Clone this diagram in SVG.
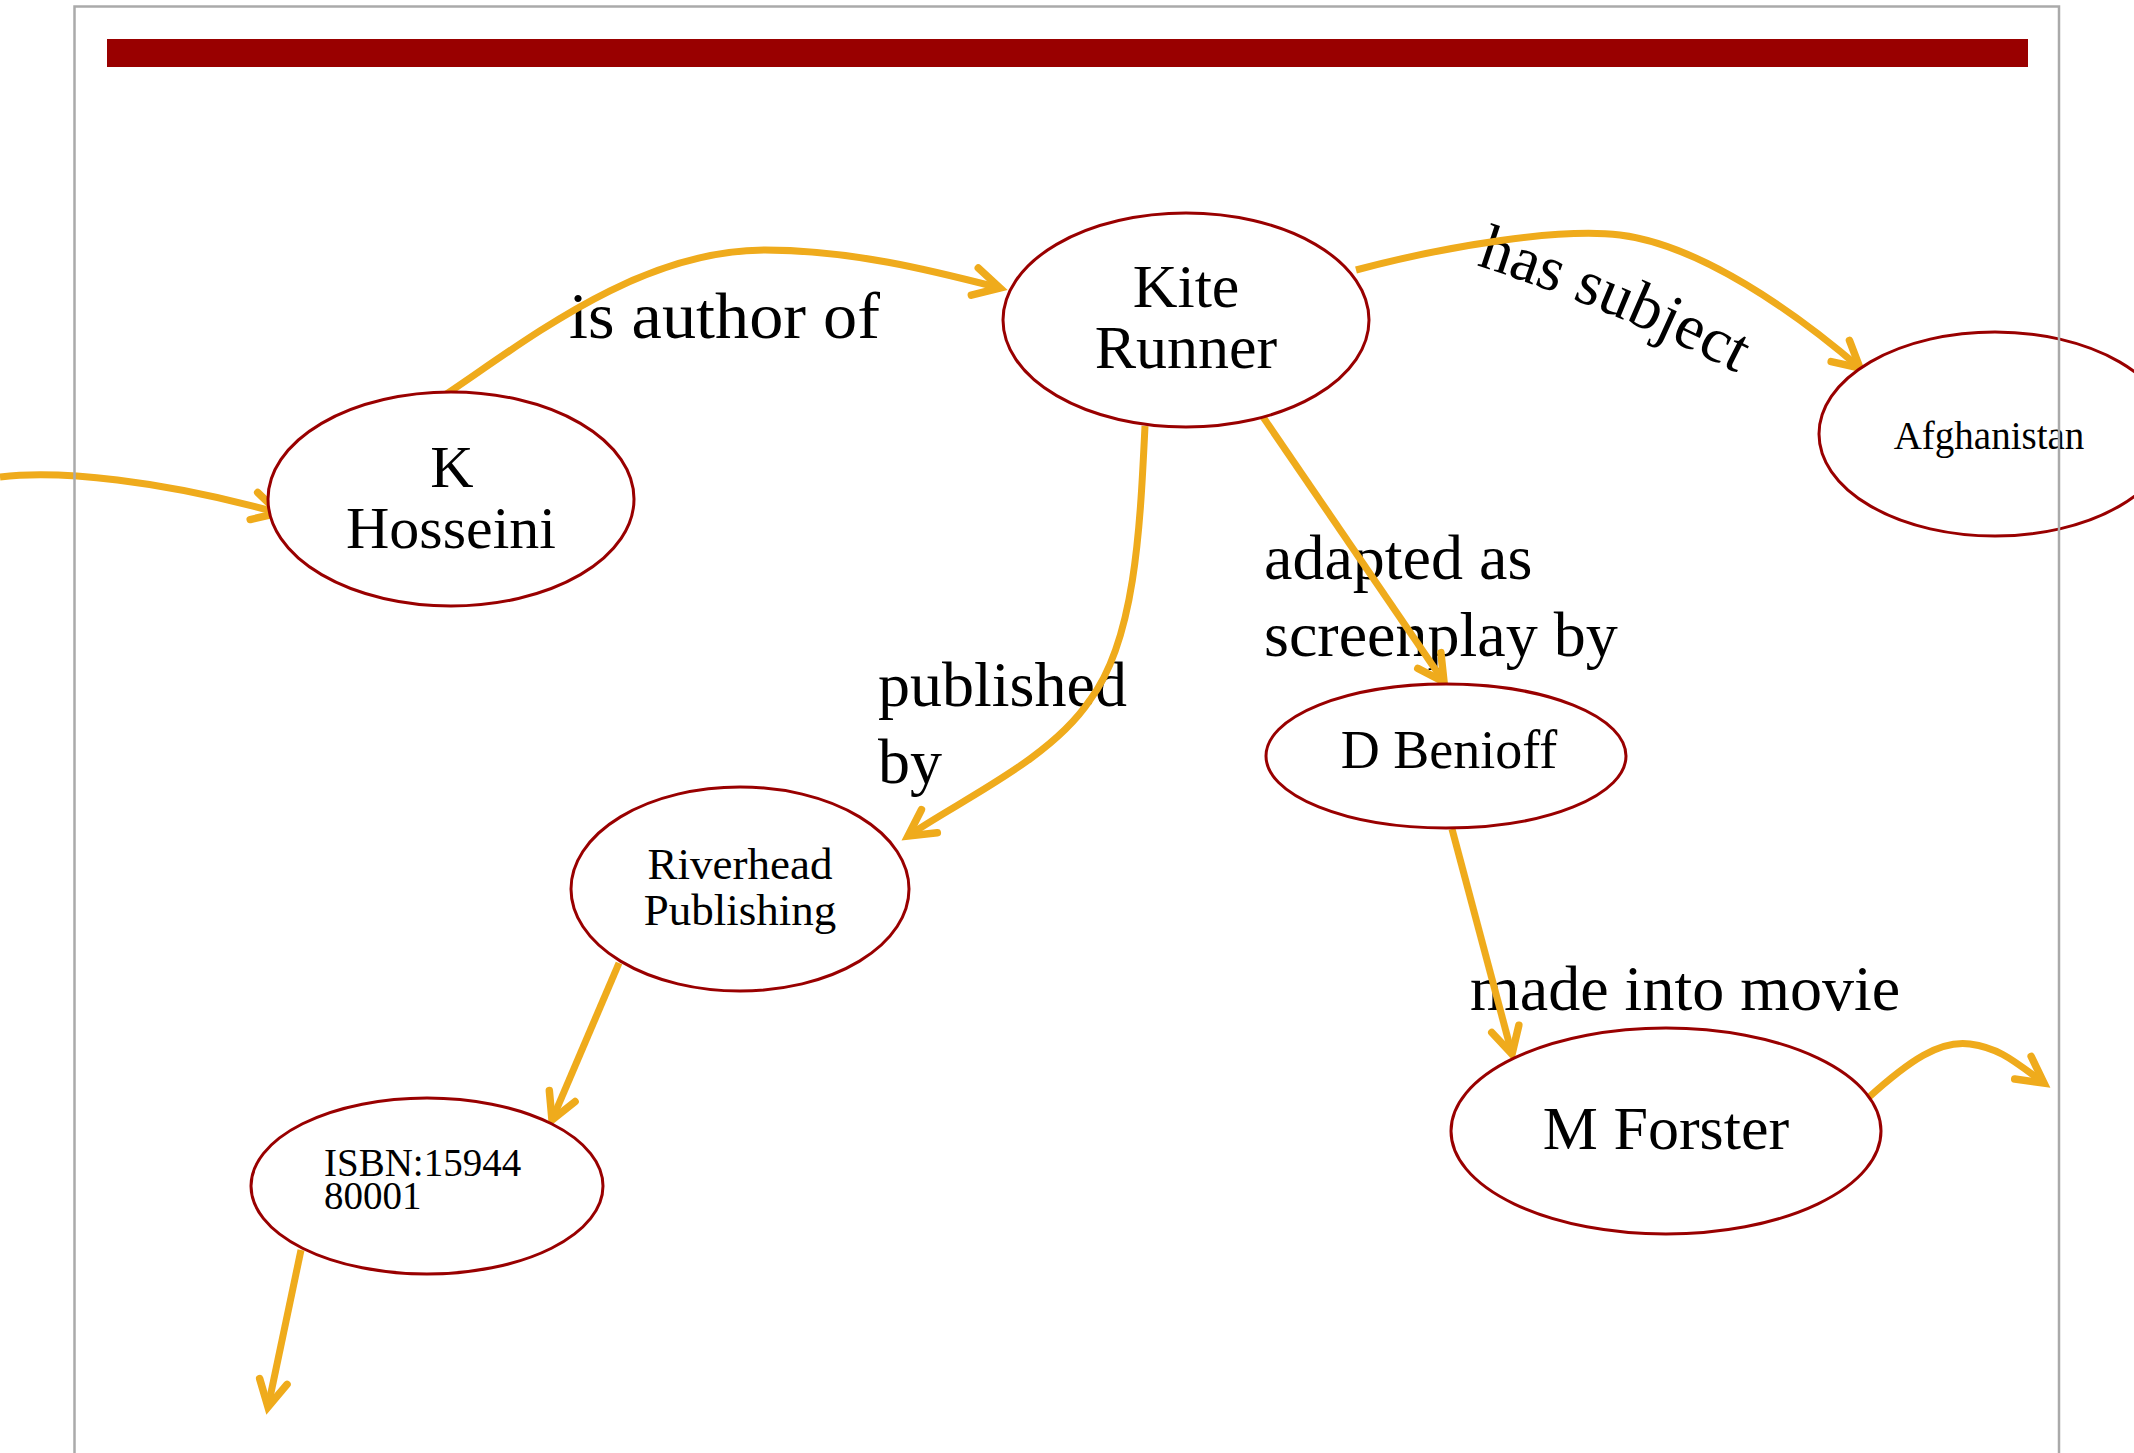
<svg xmlns="http://www.w3.org/2000/svg" width="2134" height="1453" viewBox="0 0 2134 1453">
<style>
.node{fill:#fff;stroke:#990000;stroke-width:3}
.nt{font-family:"Liberation Serif","Times New Roman",serif;fill:#000;text-anchor:middle}
.lbl{font-family:"Liberation Serif","Times New Roman",serif;fill:#000;font-size:64px}
.edge{fill:none;stroke:#EFAB1C;stroke-width:7}
.frame{fill:none;stroke:#AAAAAA;stroke-width:2.5}
</style>
<defs>
<marker id="arr" markerUnits="userSpaceOnUse" orient="auto" markerWidth="60" markerHeight="60" refX="0" refY="0" viewBox="-40 -30 60 60" overflow="visible">
<path d="M-26,-14 L0,0 L-26,14" fill="none" stroke="#EFAB1C" stroke-width="7.5" stroke-linecap="round" stroke-linejoin="miter"/>
</marker>
</defs>
<rect x="0" y="0" width="2134" height="1453" fill="#fff"/>
<rect x="107" y="39" width="1921" height="28" fill="#990000"/>

<g id="labels">
<text class="lbl" x="569" y="338" style="font-size:66px" textLength="311" lengthAdjust="spacingAndGlyphs">is author of</text>
<path id="hsPath" d="M1476,265 Q1624,313 1752,381" fill="none"/>
<text class="lbl"><textPath href="#hsPath">has subject</textPath></text>
<text class="lbl" x="1264" y="579">adapted as</text>
<text class="lbl" x="1264" y="656">screenplay by</text>
<text class="lbl" x="878" y="706">published</text>
<text class="lbl" x="878" y="783">by</text>
<text class="lbl" x="1470" y="1010">made into movie</text>
</g>

<g id="connectors">
<path class="edge" marker-end="url(#arr)" d="M0,477 C60,470 160,480 279,513"/>
<path class="edge" marker-end="url(#arr)" d="M445,395 C530,338 640,250 765,250 C850,250 930,270 1000,288"/>
<path class="edge" marker-end="url(#arr)" d="M1356,270 C1450,245 1560,228 1620,235 C1700,245 1795,312 1860,368"/>
<path class="edge" marker-end="url(#arr)" d="M1145,426 C1140,530 1135,640 1090,700 C1050,760 960,800 908,836"/>
<path class="edge" marker-end="url(#arr)" d="M1261,414 L1444,682"/>
<path class="edge" marker-end="url(#arr)" d="M1452,829 L1512,1054"/>
<path class="edge" marker-end="url(#arr)" d="M1868,1098 C1910,1060 1940,1040 1970,1044 C2000,1048 2015,1062 2044,1083"/>
<path class="edge" marker-end="url(#arr)" d="M619,963 L552,1120"/>
<path class="edge" marker-end="url(#arr)" d="M301,1250 L268,1407"/>
</g>

<g id="node-kite-runner">
<ellipse class="node" cx="1186" cy="320" rx="183" ry="107"/>
<text class="nt" x="1186" y="307" font-size="62">Kite</text>
<text class="nt" x="1186" y="368" font-size="62">Runner</text>
</g>
<g id="node-k-hosseini">
<ellipse class="node" cx="451" cy="499" rx="183" ry="107"/>
<text class="nt" x="452" y="487" font-size="60">K</text>
<text class="nt" x="451" y="548" font-size="60">Hosseini</text>
</g>
<g id="node-afghanistan">
<ellipse class="node" cx="1995" cy="434" rx="176" ry="102"/>
<text class="nt" x="1989" y="449" font-size="39">Afghanistan</text>
</g>
<g id="node-d-benioff">
<ellipse class="node" cx="1446" cy="756" rx="180" ry="72"/>
<text class="nt" x="1449" y="768" font-size="54">D Benioff</text>
</g>
<g id="node-riverhead">
<ellipse class="node" cx="740" cy="889" rx="169" ry="102"/>
<text class="nt" x="740" y="879" font-size="45">Riverhead</text>
<text class="nt" x="740" y="925" font-size="45">Publishing</text>
</g>
<g id="node-isbn">
<ellipse class="node" cx="427" cy="1186" rx="176" ry="88"/>
<text class="nt" x="324" y="1176" font-size="39" style="text-anchor:start">ISBN:15944</text>
<text class="nt" x="324" y="1209" font-size="39" style="text-anchor:start">80001</text>
</g>
<g id="node-m-forster">
<ellipse class="node" cx="1666" cy="1131" rx="215" ry="103"/>
<text class="nt" x="1666" y="1149" font-size="62">M Forster</text>
</g>

<path class="frame" d="M74.5,1460 L74.5,6.5 L2059,6.5 L2059,1460"/>
</svg>
